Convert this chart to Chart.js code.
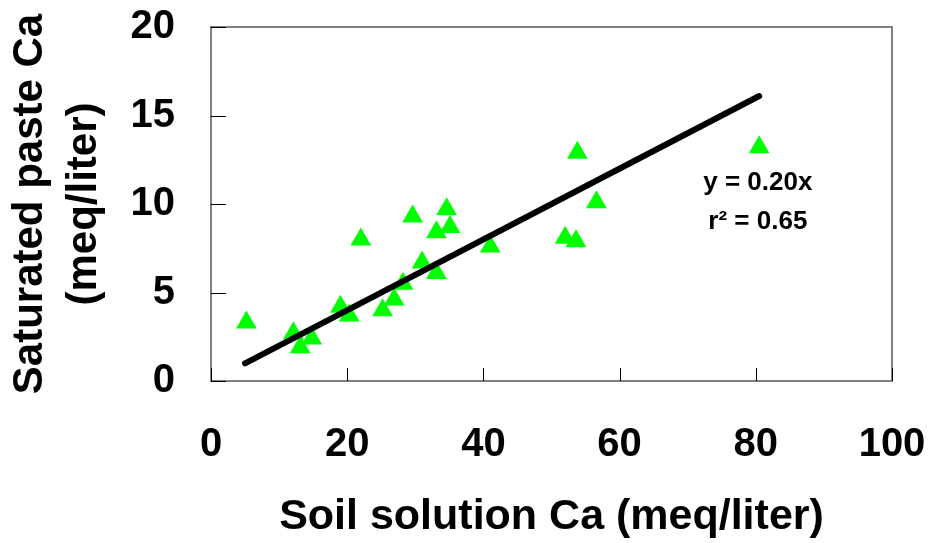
<!DOCTYPE html>
<html>
<head>
<meta charset="utf-8">
<script src="https://cdn.jsdelivr.net/npm/chart.js@4.4.1/dist/chart.umd.min.js"></script>
<style>
  html, body { margin: 0; padding: 0; background: #fff; }
  #wrap { width: 932px; height: 543px; position: relative; }
</style>
</head>
<body>
<div id="wrap"><canvas id="caChart"></canvas></div>
<script>
  // Soil solution Ca vs saturated paste Ca (meq/liter)
  const soilCa = [5.2, 12.1, 13.1, 14.8, 19.0, 20.3, 25.2, 26.9, 28.2, 31.0, 33.1,
                  22.0, 29.6, 33.1, 34.6, 35.1, 41.0, 53.8, 52.0, 53.6, 56.6, 80.5];
  const pasteCa = [3.3, 2.7, 1.9, 2.4, 4.2, 3.7, 4.0, 4.6, 5.5, 6.7, 6.1,
                   8.0, 9.3, 8.4, 9.7, 8.7, 7.6, 12.9, 8.1, 7.9, 10.1, 13.2];

  // fitted line y = 0.20x, end points as drawn
  const fitX = [5, 80.5];
  const fitY = [1.0, 16.1];

  const xTicks = [0, 20, 40, 60, 80, 100];
  const yTicks = [0, 5, 10, 15, 20];

  const FONT = '"Liberation Sans", Arial, sans-serif';

  const extras = {
    id: 'extras',
    beforeDatasetsDraw(chart) {
      const { ctx, chartArea: a, scales: { x, y } } = chart;
      ctx.save();
      // plot frame
      ctx.strokeStyle = '#808080';
      ctx.lineWidth = 2;
      ctx.strokeRect(a.left, a.top, a.right - a.left, a.bottom - a.top);
      // inward tick marks
      ctx.strokeStyle = '#000';
      ctx.lineWidth = 1;
      ctx.beginPath();
      xTicks.forEach(v => {
        const px = Math.round(x.getPixelForValue(v)) + 0.5;
        ctx.moveTo(px, a.bottom);
        ctx.lineTo(px, a.bottom - 13);
      });
      yTicks.forEach(v => {
        const py = Math.round(y.getPixelForValue(v)) + 0.5;
        ctx.moveTo(a.left, py);
        ctx.lineTo(a.left + 15, py);
      });
      ctx.stroke();
      ctx.restore();
    },
    afterDatasetsDraw(chart) {
      const { ctx, scales: { x, y } } = chart;
      ctx.save();
      ctx.fillStyle = '#000';
      ctx.font = 'bold 26px ' + FONT;
      ctx.textAlign = 'center';
      ctx.textBaseline = 'middle';
      ctx.fillText('y = 0.20x', x.getPixelForValue(80.3), y.getPixelForValue(11.2));
      ctx.fillText('r\u00B2 = 0.65', x.getPixelForValue(80.3), y.getPixelForValue(9.0));
      ctx.restore();
    }
  };

  // keep the plot box where the reference has it
  function noPad(s) {
    s.paddingTop = 0; s.paddingBottom = 0; s.paddingLeft = 0; s.paddingRight = 0;
  }

  const tickFont = { family: FONT, size: 40, weight: 'bold' };
  const titleFont = { family: FONT, size: 43, weight: 'bold' };

  new Chart(document.getElementById('caChart'), {
    type: 'scatter',
    data: {
      datasets: [
        {
          type: 'line',
          label: 'fit',
          data: fitX.map((v, i) => ({ x: v, y: fitY[i] })),
          borderColor: '#000',
          borderWidth: 6,
          borderCapStyle: 'round',
          pointRadius: 0,
          fill: false,
          order: 0
        },
        {
          label: 'Ca',
          data: soilCa.map((v, i) => ({ x: v, y: pasteCa[i] })),
          pointStyle: 'triangle',
          pointRadius: 12,
          pointHoverRadius: 12,
          backgroundColor: '#00ff00',
          borderColor: '#00ff00',
          borderWidth: 0,
          order: 1
        }
      ]
    },
    options: {
      responsive: true,
      maintainAspectRatio: false,
      animation: false,
      layout: { padding: { top: 27, right: 40, left: 0, bottom: 0 } },
      plugins: { legend: { display: false }, tooltip: { enabled: false } },
      scales: {
        x: {
          type: 'linear',
          min: 0,
          max: 100,
          afterBuildTicks: s => { s.ticks = xTicks.map(v => ({ value: v })); },
          ticks: { font: tickFont, color: '#000', padding: 40, maxRotation: 0 },
          grid: { drawOnChartArea: false, drawTicks: false },
          border: { display: true, color: '#404040', width: 2 },
          title: { display: true, text: 'Soil solution Ca (meq/liter)', font: titleFont, color: '#000', padding: { top: 0, bottom: 0 } },
          afterFit: s => { s.height = 162; noPad(s); }
        },
        y: {
          type: 'linear',
          min: 0,
          max: 20,
          afterBuildTicks: s => { s.ticks = yTicks.map(v => ({ value: v })); },
          ticks: { font: tickFont, color: '#000', padding: 36 },
          grid: { drawOnChartArea: false, drawTicks: false },
          border: { display: true, color: '#303030', width: 2 },
          title: {
            display: true,
            text: ['Saturated paste Ca', '(meq/liter)'],
            font: { family: FONT, size: 42, weight: 'bold', lineHeight: 1.29 },
            color: '#000',
            padding: { top: 3, bottom: 0 }
          },
          afterFit: s => { s.width = 211; noPad(s); }
        }
      }
    },
    plugins: [extras]
  });
</script>
</body>
</html>
